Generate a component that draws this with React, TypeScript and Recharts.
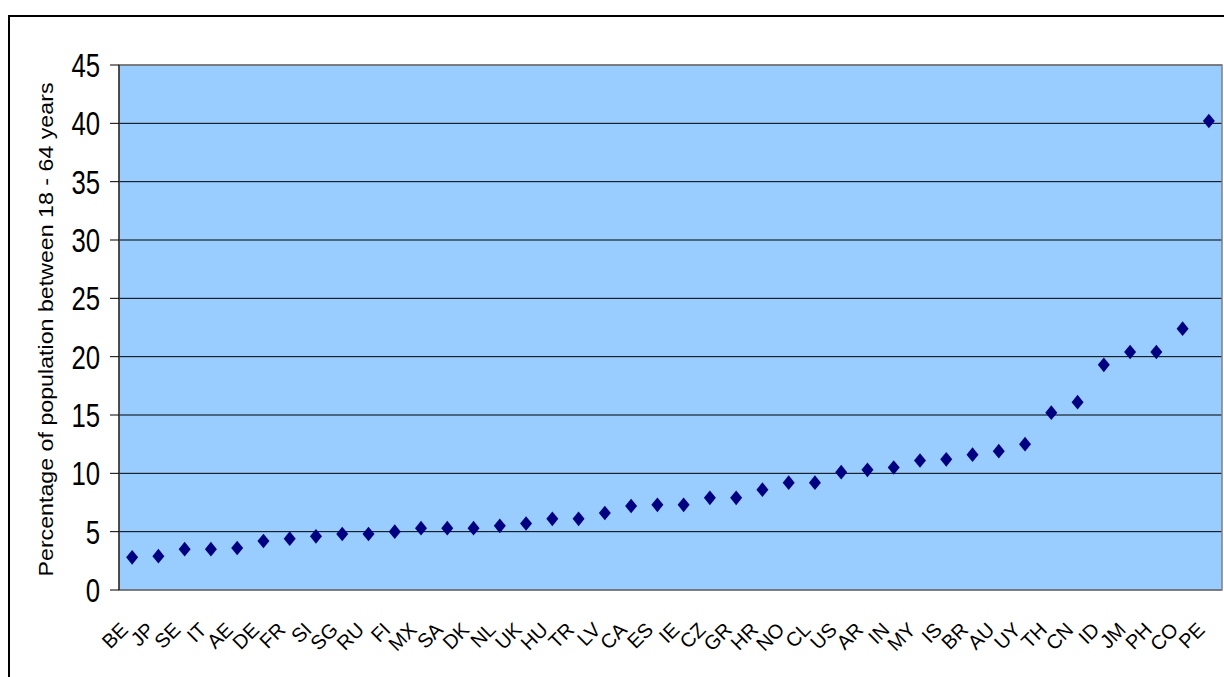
import React from 'react';
import {
  ComposedChart,
  Line,
  XAxis,
  YAxis,
  CartesianGrid,
  ReferenceArea,
} from 'recharts';

// Country codes, ordered from lowest to highest share
const codes = [
  'BE', 'JP', 'SE', 'IT', 'AE', 'DE', 'FR', 'SI', 'SG', 'RU', 'FI', 'MX', 'SA', 'DK',
  'NL', 'UK', 'HU', 'TR', 'LV', 'CA', 'ES', 'IE', 'CZ', 'GR', 'HR', 'NO', 'CL', 'US',
  'AR', 'IN', 'MY', 'IS', 'BR', 'AU', 'UY', 'TH', 'CN', 'ID', 'JM', 'PH', 'CO', 'PE',
];

// Percentage of the population aged 18-64
const shares = [
  2.8, 2.9, 3.5, 3.5, 3.6, 4.2, 4.4, 4.6, 4.8, 4.8, 5.0, 5.3, 5.3, 5.3,
  5.5, 5.7, 6.1, 6.1, 6.6, 7.2, 7.3, 7.3, 7.9, 7.9, 8.6, 9.2, 9.2, 10.1,
  10.3, 10.5, 11.1, 11.2, 11.6, 11.9, 12.5, 15.2, 16.1, 19.3, 20.4, 20.4, 22.4, 40.2,
];

const yTicks = [0, 5, 10, 15, 20, 25, 30, 35, 40, 45];

const axisTitle = 'Percentage of population between 18 - 64 years';

// each country sits in the middle of its own slot on a numeric axis
const data = codes.map((code, i) => ({ code, slot: i + 0.5, share: shares[i] }));
const slotBounds = codes.map((_, i) => i).concat(codes.length);
const slotCentres = codes.map((_, i) => i + 0.5);

const FONT = '"Liberation Sans", Arial, sans-serif';

const YTick = (props: any) => {
  const { x, y, payload } = props;
  return (
    <g transform={`translate(${x},${y})`}>
      <text
        transform="scale(0.78,1)"
        textAnchor="end"
        dy="0.36em"
        fontSize={33}
        fontFamily={FONT}
        fill="#000"
      >
        {payload.value}
      </text>
    </g>
  );
};

const XTick = (props: any) => {
  const { x, y, payload } = props;
  const label = codes[Math.floor(payload.value)];
  return (
    <g transform={`translate(${x - 3},${y})`}>
      <text
        transform="rotate(-45)"
        textAnchor="end"
        fontSize={20}
        fontFamily={FONT}
        fill="#000"
      >
        {label}
      </text>
    </g>
  );
};

const NoTick = () => <g />;

const Diamond = (props: any) => {
  const { cx, cy, index } = props;
  if (cx == null || cy == null) return <g key={`d-${index}`} />;
  return (
    <path
      key={`d-${index}`}
      d={`M${cx},${cy - 7.3} L${cx + 6},${cy} L${cx},${cy + 7.3} L${cx - 6},${cy} Z`}
      fill="#000080"
    />
  );
};

const YTitle = (props: any) => {
  const vb = props.viewBox || { x: 0, y: 65, width: 119, height: 525 };
  const cx = vb.x + 53;
  const cy = vb.y + vb.height / 2 + 2;
  return (
    <text
      x={cx}
      y={cy}
      transform={`rotate(-90, ${cx}, ${cy})`}
      textAnchor="middle"
      fontSize={21}
      fontFamily={FONT}
      fill="#000"
      textLength={494}
      lengthAdjust="spacingAndGlyphs"
    >
      {axisTitle}
    </text>
  );
};

export default function App() {
  return (
    <div
      style={{
        position: 'fixed',
        left: 0,
        top: 0,
        width: 1224,
        height: 677,
        overflow: 'hidden',
        background: '#fff',
      }}
    >
      <div
        style={{
          position: 'absolute',
          left: 8,
          top: 15,
          width: 1400,
          height: 900,
          border: '2px solid #000',
        }}
      />
      <div style={{ position: 'absolute', left: 0, top: 0 }}>
        <ComposedChart
          width={1224}
          height={677}
          data={data}
          margin={{ top: 65, right: 2, bottom: 0, left: 0 }}
        >
          <CartesianGrid
            xAxisId="labels"
            vertical={false}
            horizontal
            stroke="#000"
            strokeOpacity={1}
            fill="#99CCFF"
            fillOpacity={1}
          />
          <XAxis
            xAxisId="bounds"
            type="number"
            dataKey="slot"
            domain={[0, codes.length]}
            ticks={slotBounds}
            allowDataOverflow
            height={0}
            tick={NoTick}
            tickSize={8}
            tickLine={{ stroke: '#000' }}
            axisLine={{ stroke: '#000' }}
          />
          <XAxis
            xAxisId="labels"
            type="number"
            dataKey="slot"
            domain={[0, codes.length]}
            ticks={slotCentres}
            interval={0}
            allowDataOverflow
            height={87}
            tick={XTick}
            tickSize={0}
            tickMargin={41}
            tickLine={false}
            axisLine={false}
          />
          <YAxis
            type="number"
            domain={[0, 45]}
            ticks={yTicks}
            interval={0}
            width={119}
            tick={YTick}
            tickSize={9}
            tickMargin={10}
            tickLine={{ stroke: '#000' }}
            axisLine={{ stroke: '#000' }}
            label={YTitle}
          />
          <ReferenceArea
            xAxisId="labels"
            y1={0}
            y2={45}
            fill="none"
            stroke="#808080"
            strokeWidth={1.5}
          />
          <Line
            xAxisId="labels"
            dataKey="share"
            stroke="none"
            dot={Diamond}
            activeDot={false}
            isAnimationActive={false}
          />
        </ComposedChart>
      </div>
    </div>
  );
}
